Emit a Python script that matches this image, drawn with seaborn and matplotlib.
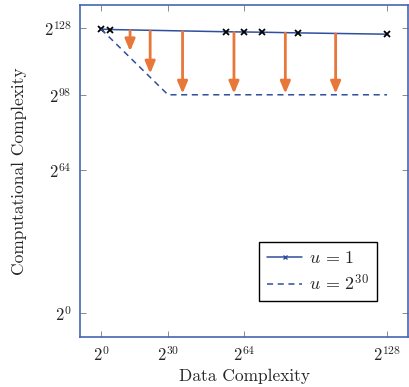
import numpy as np
import pandas as pd
import matplotlib
matplotlib.use("Agg")
import matplotlib.pyplot as plt
import seaborn as sns

# --- data (exponents of 2) ---
u1_x = [0, 4, 56, 64, 72, 88, 128]
u1_y = [127.5, 127.3, 126.3, 126.2, 126.1, 125.8, 125.2]
u30_x = [0, 30, 128]
u30_y = [127.5, 98, 98]
arrow_x = [13, 22, 36.5, 59.5, 82.5, 105]
arrow_top = [126.8, 126.6, 126.4, 126.0, 125.7, 125.3]
arrow_bottom = [117.5, 107.5, 98.5, 98.5, 98.5, 98.5]
xticks = [0, 30, 64, 128]
yticks = [0, 64, 98, 128]

LINE_BLUE = "#2f4f9e"
FRAME_BLUE = "#4466b0"
ORANGE = "#e8773a"

sns.set_style("ticks")
plt.rcParams["font.family"] = ["cmr10", "DejaVu Serif"]
plt.rcParams["mathtext.fontset"] = "cm"
plt.rcParams["axes.formatter.use_mathtext"] = True

fig = plt.figure(figsize=(4.09, 3.87), dpi=100)
ax = fig.add_axes([0.1956, 0.129, 0.802, 0.858])

df1 = pd.DataFrame({"x": u1_x, "y": u1_y})
df30 = pd.DataFrame({"x": u30_x, "y": u30_y})

sns.lineplot(data=df1, x="x", y="y", ax=ax, color=LINE_BLUE, lw=1.1,
             marker="x", markersize=4.5, markeredgecolor="black",
             markeredgewidth=1.3, label=r"$u\,=\,1$")
sns.lineplot(data=df30, x="x", y="y", ax=ax, color=LINE_BLUE, lw=1.1,
             linestyle=(0, (4, 3)), label=r"$u\,=\,2^{30}$")

for xa, yt, yb in zip(arrow_x, arrow_top, arrow_bottom):
    ax.annotate("", xy=(xa, yb), xytext=(xa, yt),
                arrowprops=dict(arrowstyle="-|>,head_length=0.6,head_width=0.25",
                                color=ORANGE, lw=2,
                                mutation_scale=12, shrinkA=0, shrinkB=0))

ax.set_xlim(-9.4, 137.4)
ax.set_ylim(-10.8, 138.3)
ax.set_xticks(xticks)
ax.set_xticklabels([rf"$2^{{{t}}}$" for t in xticks], fontsize=12)
ax.set_yticks(yticks)
ax.set_yticklabels([rf"$2^{{{t}}}$" for t in yticks], fontsize=12)
ax.tick_params(direction="in", length=4, width=0.6, color="#777777",
               top=True, right=True, pad=6)

for sp in ax.spines.values():
    sp.set_visible(True)
    sp.set_color(FRAME_BLUE)
    sp.set_linewidth(1.2)

ax.set_xlabel("Data Complexity", fontsize=12.5, labelpad=3)
ax.set_ylabel("Computational Complexity", fontsize=12.5, labelpad=12)

leg = ax.legend(loc="lower right", bbox_to_anchor=(0.933, 0.081),
                fancybox=False, framealpha=1, edgecolor="black",
                fontsize=13, handlelength=1.9, borderpad=0.45,
                labelspacing=0.35, handletextpad=0.4)
leg.get_frame().set_linewidth(1.0)
for h in leg.legend_handles:
    h.set_markeredgecolor(LINE_BLUE)
    h.set_markersize(3.5)
    h.set_markeredgewidth(1.0)

fig.savefig("out.png", dpi=100)
